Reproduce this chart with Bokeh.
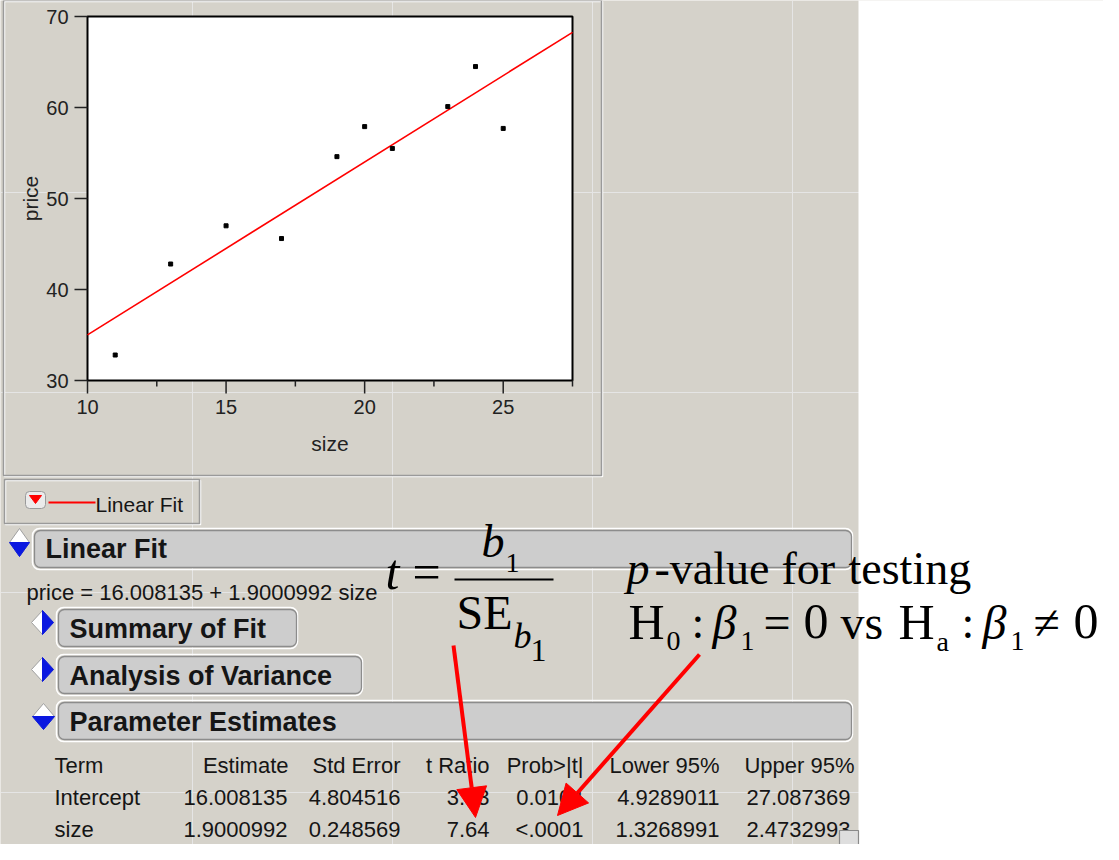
import math
from bokeh.plotting import figure
from bokeh.models import Arrow, NormalHead, ColumnDataSource, Range1d
from bokeh.core.properties import value
from bokeh.embed import file_html
from bokeh.resources import INLINE

# ---------------- data ----------------
size = [11, 13, 15, 17, 19, 20, 21, 23, 24, 25]
price = [32.8, 42.8, 47.0, 45.6, 54.6, 57.9, 55.5, 60.1, 64.5, 57.7]
fit_intercept = 16.008135
fit_slope = 1.9000992

x_domain = [10, 27.5]
y_domain = [30, 70]
x_ticks = [10, 15, 20, 25]
x_minor_ticks = [12.5, 17.5, 22.5, 27.5]
y_ticks = [30, 40, 50, 60, 70]

table_header = ["Term", "Estimate", "Std Error", "t Ratio", "Prob>|t|", "Lower 95%", "Upper 95%"]
terms = ["Intercept", "size"]
estimate = ["16.008135", "1.9000992"]
std_error = ["4.804516", "0.248569"]
t_ratio = ["3.33", "7.64"]
prob_t = ["0.0104", "<.0001"]
lower95 = ["4.9289011", "1.3268991"]
upper95 = ["27.087369", "2.4732993"]

outline_titles = ["Linear Fit", "Summary of Fit", "Analysis of Variance", "Parameter Estimates"]

# ---------------- style / layout ----------------
BG = "#d5d2ca"
BTN = "#cdcdcd"
DARK = "#8c8c8c"
BLUE = "#0b18e0"
INK = "#151515"
SANS = "Liberation Sans"
SERIF = "Liberation Serif"
BASE_FIX = 0.36   # alphabetic baseline correction (fraction of font size)

W, H = 1103, 844
OX, OY = 8, 8                      # page margin
FRAME_L, FRAME_R, FRAME_B, FRAME_T = 95, 580, 388, 24   # pixel box of the data area
UX = (x_domain[1] - x_domain[0]) / (FRAME_R - FRAME_L)  # data units per pixel
UY = (y_domain[1] - y_domain[0]) / (FRAME_B - FRAME_T)


def xd(px):
    return x_domain[0] + (px - FRAME_L) * UX


def yd(py):
    return y_domain[0] + (FRAME_B - py) * UY


p = figure(width=W, height=H,
           x_range=Range1d(OX, OX + W), y_range=Range1d(OY + H, OY),
           extra_x_ranges={"dx": Range1d(xd(OX), xd(OX + W))},
           extra_y_ranges={"dy": Range1d(yd(OY + H), yd(OY))},
           x_axis_location=None, y_axis_location=None, min_border=0,
           output_backend="svg", toolbar_location=None)
p.background_fill_color = BG
p.border_fill_color = BG
p.outline_line_color = None


def box(x0, y0, x1, y1, fill=None, line=None, lw=1.0, radius=0):
    p.quad(left=[x0], right=[x1], top=[y0], bottom=[y1],
           fill_color=fill if fill else "white", fill_alpha=1.0 if fill else 0.0,
           line_color=line if line else "black", line_alpha=1.0 if line else 0.0,
           line_width=lw, border_radius=radius)


def poly(pts, fill=None, line=None, lw=1.0):
    p.patch([x for x, _ in pts], [y for _, y in pts],
            fill_color=fill if fill else "white", fill_alpha=1.0 if fill else 0.0,
            line_color=line if line else "black", line_alpha=1.0 if line else 0.0,
            line_width=lw)


def lab(text, x, y, size_px, font=SANS, style="normal", align="left", baseline="middle", color=INK):
    if baseline == "alphabetic":
        y = y - BASE_FIX * size_px
    p.text(x=[x], y=[y], text=[text], text_font=value(font), text_font_size=f"{size_px}px",
           text_font_style=style, text_align=align, text_baseline=baseline, text_color=color)


def icon(cx, cy, hw, hh, down):
    poly([(cx, cy - hh), (cx + hw, cy), (cx, cy + hh), (cx - hw, cy)], fill="white", line="#a0a0a0", lw=1)
    if down:
        poly([(cx - hw, cy), (cx + hw, cy), (cx, cy + hh)], fill=BLUE, line=BLUE)
    else:
        poly([(cx, cy - hh), (cx + hw, cy), (cx, cy + hh)], fill=BLUE, line=BLUE)


def button(x0, y0, x1, y1, text, ty):
    box(x0, y0, x1, y1, line="white", lw=1.5, radius=7)
    box(x0 + 2, y0 + 2, x1 - 1, y1 - 2, fill=BTN, line=DARK, lw=1.3, radius=6)
    lab(text, x0 + 13, ty, 27, style="bold")


# white page area on the right
box(866, OY - 5, OX + W + 5, OY + H + 5, fill="white")

# ---------------- scatter plot panel ----------------
box(12, 9, 610, 484, line="white", lw=1.5)
box(11, 8, 609, 483, line="#9a9a9a", lw=1.5)

D = dict(x_range_name="dx", y_range_name="dy")
p.quad(left=[x_domain[0]], right=[x_domain[1]], bottom=[y_domain[0]], top=[y_domain[1]],
       fill_color="white", line_color="black", line_width=2, **D)
# ticks
p.segment(x0=x_ticks, y0=[y_domain[0]] * len(x_ticks), x1=x_ticks,
          y1=[y_domain[0] - 13 * UY] * len(x_ticks), line_color="#222222", line_width=1.5, **D)
p.segment(x0=x_minor_ticks, y0=[y_domain[0]] * len(x_minor_ticks), x1=x_minor_ticks,
          y1=[y_domain[0] - 6 * UY] * len(x_minor_ticks), line_color="#222222", line_width=1.5, **D)
p.segment(x0=[x_domain[0]] * len(y_ticks), y0=y_ticks, x1=[x_domain[0] - 13 * UX] * len(y_ticks),
          y1=y_ticks, line_color="#222222", line_width=1.5, **D)
# tick labels
p.text(x=x_ticks, y=[y_domain[0]] * len(x_ticks), text=[str(v) for v in x_ticks], y_offset=19,
       text_align="center", text_baseline="top", text_font=value(SANS), text_font_size="20px",
       text_color="#222222", **D)
p.text(x=[x_domain[0]] * len(y_ticks), y=y_ticks, text=[str(v) for v in y_ticks], x_offset=-19,
       text_align="right", text_baseline="middle", text_font=value(SANS), text_font_size="20px",
       text_color="#222222", **D)
# axis titles
p.text(x=[sum(x_domain) / 2], y=[y_domain[0]], text=["size"], y_offset=63, text_align="center",
       text_baseline="middle", text_font=value(SANS), text_font_size="21px", text_color="#222222", **D)
p.text(x=[x_domain[0]], y=[sum(y_domain) / 2], text=["price"], x_offset=-57, angle=math.pi / 2,
       text_align="center", text_baseline="middle", text_font=value(SANS), text_font_size="21px",
       text_color="#222222", **D)
# fit line and points
p.line(x=x_domain, y=[fit_intercept + fit_slope * v for v in x_domain], line_color="red",
       line_width=1.6, **D)
p.scatter(x=size, y=price, marker="square", size=4, fill_color="black", line_color="black", **D)

# ---------------- legend ----------------
box(13, 488, 208, 532, line="white", lw=1.5)
box(12, 487, 207, 531, line="#9a9a9a", lw=1.5)
box(33, 499, 53, 516, fill="#ebebeb", line="#9a9a9a", lw=1, radius=4)
poly([(37, 503), (49, 503), (43, 511)], fill="red", line="red")
box(56, 509, 103, 511, fill="red")
lab(outline_titles[0], 103, 512, 21)

# ---------------- report outline ----------------
icon(27, 550, 10, 14, True)
button(40, 536, 860, 577, outline_titles[0], 556)
lab(f"price = {fit_intercept} + {fit_slope} size", 34, 600, 22)

icon(50, 630, 11, 12, False)
button(64, 615, 305, 656, outline_titles[1], 636)
icon(50, 677, 11, 12, False)
button(64, 662, 370, 703, outline_titles[2], 683)
icon(51, 724, 11, 13, True)
button(64, 708, 860, 749, outline_titles[3], 729)

# parameter table
head_right = [296, 408, 497, 591, 727, 862]
val_right = [295, 408, 497, 591, 727, 858]
head_y = 773
row_y = [805, 837]
cols = [estimate, std_error, t_ratio, prob_t, lower95, upper95]

left_src = ColumnDataSource(dict(x=[62] * 3, y=[head_y] + row_y, text=[table_header[0]] + terms))
rx, ry, rt = [], [], []
for j, hdr in enumerate(table_header[1:]):
    rx.append(head_right[j]); ry.append(head_y); rt.append(hdr)
    for i in range(len(terms)):
        rx.append(val_right[j]); ry.append(row_y[i]); rt.append(cols[j][i])
right_src = ColumnDataSource(dict(x=rx, y=ry, text=rt))
for src, al in ((left_src, "left"), (right_src, "right")):
    p.text(x="x", y="y", text="text", source=src, text_align=al, text_baseline="middle",
           text_font=value(SANS), text_font_size="22px", text_color=INK)

# resize box bottom right
box(847, 838, 866, 858, fill="#dedede", line="#8a8a8a", lw=1.2)

# ---------------- math annotations ----------------
K = "black"
lab("t", 393, 597, 50, font=SERIF, style="italic", baseline="alphabetic", color=K)
lab("=", 420, 597, 50, font=SERIF, baseline="alphabetic", color=K)
box(462, 586, 561, 588, fill=K)
lab("b", 489, 566, 46, font=SERIF, style="italic", baseline="alphabetic", color=K)
lab("1", 513, 581, 28, font=SERIF, baseline="alphabetic", color=K)
lab("SE", 464, 637, 48, font=SERIF, baseline="alphabetic", color=K)
lab("b", 521, 656, 36, font=SERIF, style="italic", baseline="alphabetic", color=K)
lab("1", 538, 670, 32, font=SERIF, baseline="alphabetic", color=K)

lab("p", 634, 593, 46, font=SERIF, style="italic", baseline="alphabetic", color=K)
lab("-value", 662, 593, 46, font=SERIF, baseline="alphabetic", color=K)
lab("for", 789, 593, 46, font=SERIF, baseline="alphabetic", color=K)
lab("testing", 856, 593, 46, font=SERIF, baseline="alphabetic", color=K)


def hypothesis(x0, sub, rel):
    lab("H", x0, 647, 50, font=SERIF, baseline="alphabetic", color=K)
    lab(sub, x0 + 38, 659, 28, font=SERIF, baseline="alphabetic", color=K)
    lab(":", x0 + 63, 647, 46, font=SERIF, baseline="alphabetic", color=K)
    lab("\u03b2", x0 + 84, 647, 48, font=SERIF, style="italic", baseline="alphabetic", color=K)
    lab("1", x0 + 112, 659, 28, font=SERIF, baseline="alphabetic", color=K)
    lab(rel, x0 + 135, 647, 48, font=SERIF, baseline="alphabetic", color=K)
    lab("0", x0 + 175, 647, 50, font=SERIF, baseline="alphabetic", color=K)


hypothesis(636, "0", "=")
lab("vs", 848, 647, 48, font=SERIF, baseline="alphabetic", color=K)
hypothesis(906, "a", "\u2260")

# red arrows
for (x0, y0, x1, y1) in [(461, 653, 483, 825), (707, 662, 565, 823)]:
    p.add_layout(Arrow(x_start=x0, y_start=y0, x_end=x1, y_end=y1,
                       line_color="red", line_width=4,
                       end=NormalHead(size=30, fill_color="red", line_color="red", line_width=1)))

open("out.html", "w").write(file_html(p, INLINE))
